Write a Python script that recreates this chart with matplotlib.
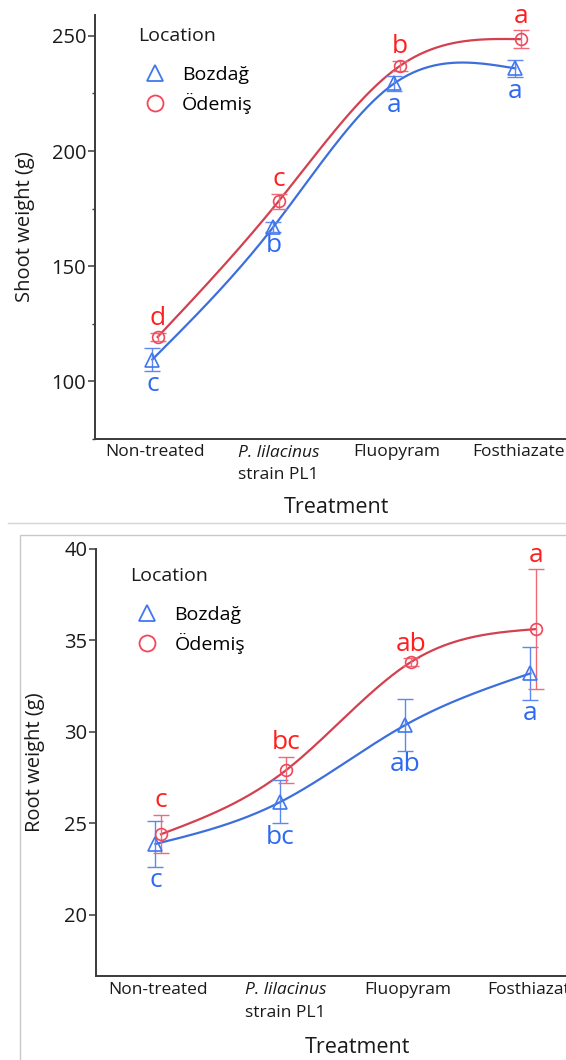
import numpy as np
import matplotlib
matplotlib.use("Agg")
import matplotlib.pyplot as plt
from matplotlib.lines import Line2D
from matplotlib.patches import Rectangle

plt.rcParams["font.family"] = ["Open Sans", "DejaVu Sans"]

# data
treatments = ["Non-treated", "P. lilacinus", "Fluopyram", "Fosthiazate"]
locations = ["Bozdağ", "Ödemiş"]

shoot_bozdag = [109.4, 167.0, 229.4, 235.9]
shoot_bozdag_err = [5.0, 2.0, 3.4, 3.8]
shoot_odemis = [119.2, 178.2, 236.9, 248.6]
shoot_odemis_err = [1.7, 3.2, 2.2, 3.8]
shoot_bozdag_letters = ["c", "b", "a", "a"]
shoot_odemis_letters = ["d", "c", "b", "a"]

root_bozdag = [23.87, 26.17, 30.38, 33.2]
root_bozdag_err = [1.24, 1.18, 1.42, 1.45]
root_odemis = [24.4, 27.9, 33.82, 35.62]
root_odemis_err = [1.05, 0.72, 0.2, 3.27]
root_bozdag_letters = ["c", "bc", "ab", "a"]
root_odemis_letters = ["c", "bc", "ab", "a"]

BLUE_LINE = "#3d6fdc"
BLUE_MARK = "#4177ee"
BLUE_ERR = "#5e88f0"
BLUE_TXT = "#2d6af2"
RED_LINE = "#d3404f"
RED_MARK = "#f0485a"
RED_ERR = "#f06a78"
RED_TXT = "#ff1f1f"
SPINE = "#3a3a3a"

W, H = 566, 1060


def natural_spline(x, y, num=200):
    x = np.asarray(x, float)
    y = np.asarray(y, float)
    n = len(x)
    h = np.diff(x)
    slope = np.diff(y) / h
    A = np.zeros((n, n))
    rhs = np.zeros(n)
    A[0, 0] = A[-1, -1] = 1.0
    for i in range(1, n - 1):
        A[i, i - 1] = h[i - 1]
        A[i, i] = 2 * (h[i - 1] + h[i])
        A[i, i + 1] = h[i]
        rhs[i] = 6 * (slope[i] - slope[i - 1])
    m = np.linalg.solve(A, rhs)
    xs = np.linspace(x[0], x[-1], num)
    idx = np.clip(np.searchsorted(x, xs) - 1, 0, n - 2)
    hi = h[idx]
    a = x[idx + 1] - xs
    b = xs - x[idx]
    ys = (m[idx] * a ** 3 + m[idx + 1] * b ** 3) / (6 * hi)
    ys += (y[idx] / hi - m[idx] * hi / 6) * a + (y[idx + 1] / hi - m[idx + 1] * hi / 6) * b
    return xs, ys


def draw_series(ax, xpos, means, errs, letters, marker, ms, lcol, mcol, ecol, tcol, above):
    xs, ys = natural_spline(xpos, means)
    ax.plot(xs, ys, color=lcol, lw=1.6, zorder=2)
    ax.errorbar(xpos, means, yerr=errs, fmt="none", ecolor=ecol, elinewidth=1.0,
                capsize=5.8, capthick=1.0, zorder=3)
    ax.plot(xpos, means, ls="none", marker=marker, ms=ms, mfc="none", mec=mcol,
            mew=1.2, zorder=4)
    for x, m, e, lab in zip(xpos, means, errs, letters):
        if above:
            ax.annotate(lab, xy=(x, m + e), xytext=(0, 1.2), textcoords="offset points",
                        ha="center", va="bottom", color=tcol, fontsize=19)
        else:
            ax.annotate(lab, xy=(x, m - e), xytext=(0, -1.0), textcoords="offset points",
                        ha="center", va="top", color=tcol, fontsize=19)


def style_axes(ax, ylabel, ylab_x, xlab_xy, legend_xy, title_y):
    for side in ("top", "right"):
        ax.spines[side].set_visible(False)
    for side in ("left", "bottom"):
        ax.spines[side].set_color(SPINE)
        ax.spines[side].set_linewidth(1.4)
    ax.tick_params(axis="y", length=5, width=1.1, color=SPINE, labelsize=14.5, pad=1,
                   labelcolor="#1a1a1a")
    ax.tick_params(axis="y", which="minor", length=2.5, width=1.0, color=SPINE)
    ax.tick_params(axis="x", length=0, labelsize=12.5, pad=4, labelcolor="#1a1a1a")
    ax.set_xlim(-0.5, 3.5)
    ax.set_xticks(range(len(treatments)))
    ax.set_xticklabels(["Non-treated", "", "Fluopyram", "Fosthiazate"])
    ax.annotate("P. lilacinus", xy=(1, 0), xycoords=("data", "axes fraction"),
                xytext=(-27.5, -10.2), textcoords="offset points", ha="left", va="center",
                fontsize=12.5, fontstyle="italic", color="#1a1a1a")
    ax.annotate("strain PL1", xy=(1, 0), xycoords=("data", "axes fraction"),
                xytext=(-27.5, -26.3), textcoords="offset points", ha="left", va="center",
                fontsize=12.5, color="#1a1a1a")
    ax.set_ylabel(ylabel, fontsize=14.5, color="#1a1a1a")
    ax.yaxis.set_label_coords(ylab_x, 0.5)
    ax.set_xlabel("Treatment", fontsize=15.5, color="#1a1a1a")
    ax.xaxis.set_label_coords(*xlab_xy)

    handles = [
        Line2D([], [], ls="none", marker="^", ms=12, mfc="none", mec=BLUE_MARK, mew=1.3),
        Line2D([], [], ls="none", marker="o", ms=11.5, mfc="none", mec=RED_MARK, mew=1.3),
    ]
    ax.legend(handles, locations, loc="upper left", bbox_to_anchor=legend_xy,
              frameon=False, fontsize=14, handlelength=1.78, handletextpad=0.5,
              labelspacing=0.45, borderpad=0, borderaxespad=0)
    ax.text(legend_xy[0], title_y, "Location", transform=ax.transAxes, ha="left",
            va="center", fontsize=14, color="#1a1a1a")


fig = plt.figure(figsize=(W / 100, H / 100), dpi=100)

# shoot weight panel
ax1 = fig.add_axes([94.5 / W, 1 - 438.7 / H, 484 / W, 423.7 / H])
x = np.arange(len(treatments))
draw_series(ax1, x - 0.022, shoot_bozdag, shoot_bozdag_err, shoot_bozdag_letters,
            "^", 9.5, BLUE_LINE, BLUE_MARK, BLUE_ERR, BLUE_TXT, above=False)
draw_series(ax1, x + 0.022, shoot_odemis, shoot_odemis_err, shoot_odemis_letters,
            "o", 8.5, RED_LINE, RED_MARK, RED_ERR, RED_TXT, above=True)
ax1.set_ylim(75, 259.1)
ax1.set_yticks([100, 150, 200, 250])
ax1.set_yticks([75, 125, 175, 225], minor=True)
style_axes(ax1, "Shoot weight (g)", -0.123, (0.499, -0.138), (0.0893, 0.88), 0.9504)

# root weight panel
ax2 = fig.add_axes([95.7 / W, 1 - 976 / H, 500 / W, 427 / H])
draw_series(ax2, x - 0.022, root_bozdag, root_bozdag_err, root_bozdag_letters,
            "^", 9.5, BLUE_LINE, BLUE_MARK, BLUE_ERR, BLUE_TXT, above=False)
draw_series(ax2, x + 0.022, root_odemis, root_odemis_err, root_odemis_letters,
            "o", 8.5, RED_LINE, RED_MARK, RED_ERR, RED_TXT, above=True)
ax2.set_ylim(16.65, 40)
ax2.set_yticks([20, 25, 30, 35, 40])
style_axes(ax2, "Root weight (g)", -0.101, (0.5226, -0.143), (0.0686, 0.866), 0.936)

# separator line and the frame round the lower figure
fig.add_artist(Line2D([8 / W, 1], [1 - 523 / H] * 2, color="#d6d6d6", lw=1.0))
fig.add_artist(Rectangle((20 / W, -0.1), 1.2, 0.1 + 1 - 535 / H, fill=False,
                         edgecolor="#c8c8c8", lw=1.0, transform=fig.transFigure))

fig.savefig("out.png", dpi=100)
